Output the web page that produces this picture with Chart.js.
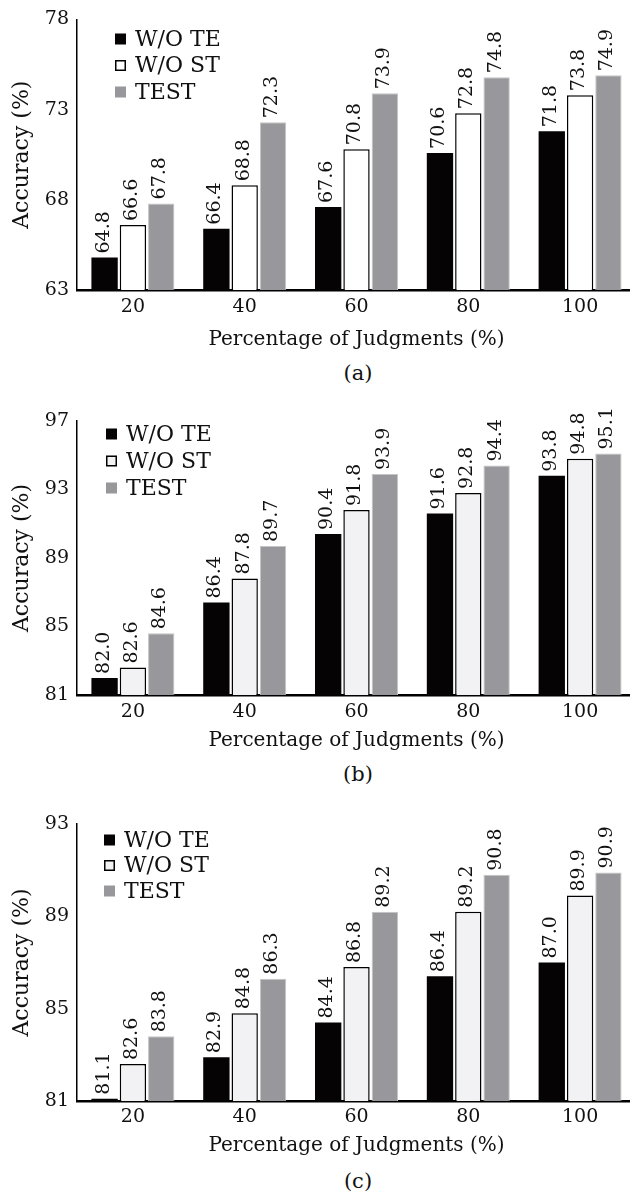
<!DOCTYPE html>
<html>
<head>
<meta charset="utf-8">
<script src="https://cdn.jsdelivr.net/npm/chart.js@4/dist/chart.umd.min.js"></script>
<style>
    html, body { margin: 0; padding: 0; background: #fff; width: 630px; height: 1196px; overflow: hidden; }
    canvas { position: absolute; left: 0; }
    .legenda-fig { position: absolute; left: 308px; width: 100px; text-align: center;
                   font: 21px "DejaVu Serif"; line-height: 24px; color: #111; }
</style>
</head>
<body>
<canvas id="graficoA" width="636" height="352" style="top:0px"></canvas>
<div class="legenda-fig" style="top:361px">(a)</div>
<canvas id="graficoB" width="636" height="353" style="top:400px"></canvas>
<div class="legenda-fig" style="top:762px">(b)</div>
<canvas id="graficoC" width="636" height="358" style="top:800px"></canvas>
<div class="legenda-fig" style="top:1169px">(c)</div>

<script>
// ---------------- DADOS ----------------
const categorias = ["20", "40", "60", "80", "100"];
const nomesSeries = ["W/O TE", "W/O ST", "TEST"];

// (a)
const semTE_a = [64.8, 66.4, 67.6, 70.6, 71.8];
const semST_a = [66.6, 68.8, 70.8, 72.8, 73.8];
const test_a  = [67.8, 72.3, 73.9, 74.8, 74.9];
const ticksY_a = [63, 68, 73, 78];

// (b)
const semTE_b = [82.0, 86.4, 90.4, 91.6, 93.8];
const semST_b = [82.6, 87.8, 91.8, 92.8, 94.8];
const test_b  = [84.6, 89.7, 93.9, 94.4, 95.1];
const ticksY_b = [81, 85, 89, 93, 97];

// (c)
const semTE_c = [81.1, 82.9, 84.4, 86.4, 87.0];
const semST_c = [82.6, 84.8, 86.8, 89.2, 89.9];
const test_c  = [83.8, 86.3, 89.2, 90.8, 90.9];
const ticksY_c = [81, 85, 89, 93];

Chart.defaults.font.family = "'DejaVu Serif'";
Chart.defaults.color = "#111";

/* -------------- ROTULOS DAS BARRAS -------------- */
const pluginRotulos = {
    id: "rotulos",
    afterDatasetsDraw(chart, args, opts) {
        const ctx = chart.ctx;
        ctx.save();
        ctx.font = opts.tamanho + "px 'DejaVu Serif'";
        ctx.fillStyle = "#111";
        ctx.textAlign = "left";
        ctx.textBaseline = "middle";
        chart.data.datasets.forEach((ds, i) => {
            chart.getDatasetMeta(i).data.forEach((barra, j) => {
                ctx.save();
                ctx.translate(barra.x - 1, barra.y - 4);
                ctx.rotate(-Math.PI / 2);
                ctx.fillText(ds.data[j].toFixed(1), 0, 0);
                ctx.restore();
            });
        });
        ctx.restore();
    }
};

/* -------------- LEGENDA DENTRO DO GRAFICO -------------- */
const pluginLegenda = {
    id: "legendaInterna",
    afterDraw(chart, args, opts) {
        const ctx = chart.ctx;
        ctx.save();
        ctx.font = opts.tamanho + "px 'DejaVu Serif'";
        ctx.textAlign = "left";
        ctx.textBaseline = "middle";
        chart.data.datasets.forEach((ds, i) => {
            const y = opts.y + i * opts.passo;
            ctx.fillStyle = ds.backgroundColor;
            ctx.fillRect(opts.x, y - opts.lado / 2, opts.lado, opts.lado);
            if (ds.borderColor === "#000") {
                ctx.lineWidth = 1.5;
                ctx.strokeStyle = "#000";
                ctx.strokeRect(opts.x + 0.75, y - opts.lado / 2 + 0.75, opts.lado - 1.5, opts.lado - 1.5);
            }
            ctx.fillStyle = "#111";
            ctx.fillText(ds.label, opts.x + opts.lado + 9, y + 1);
        });
        ctx.restore();
    }
};

// =============================
// Helper para montar cada grafico
// =============================
function criarGrafico(id, semTE, semST, test, ticksY, cfg) {
    new Chart(document.getElementById(id), {
        type: "bar",
        data: {
            labels: categorias,
            datasets: [
                { label: nomesSeries[0], data: semTE, backgroundColor: "#060304", borderWidth: 0 },
                { label: nomesSeries[1], data: semST, backgroundColor: cfg.corST, borderColor: "#000", borderWidth: 1.5 },
                { label: nomesSeries[2], data: test, backgroundColor: "#98989c", borderColor: "#c4c4c6", borderWidth: 1 }
            ]
        },
        options: {
            responsive: false,
            animation: false,
            layout: { padding: { top: cfg.topo, left: 0, right: 0, bottom: 0 } },
            datasets: { bar: { categoryPercentage: 0.76, barPercentage: 0.93 } },
            plugins: {
                legend: { display: false },
                tooltip: { enabled: false },
                rotulos: { tamanho: 19 },
                legendaInterna: cfg.legenda
            },
            scales: {
                x: {
                    grid: { display: false, drawTicks: false },
                    border: { color: "#000", width: 2.5 },
                    ticks: { font: { size: 19 }, padding: cfg.padTicks, color: "#111" },
                    title: { display: true, text: "Percentage of Judgments (%)", font: { size: 20 }, padding: 0, color: "#111" },
                    afterFit: s => { s.height = cfg.alturaX; }
                },
                y: {
                    min: ticksY[0],
                    max: ticksY[ticksY.length - 1],
                    grid: { display: false, drawTicks: false },
                    border: { color: "#000", width: 1.5 },
                    ticks: { font: { size: 19 }, padding: 8, color: "#111" },
                    afterBuildTicks: s => { s.ticks = ticksY.map(v => ({ value: v })); },
                    title: { display: true, text: "Accuracy (%)", font: { size: 22 }, padding: { top: 9, bottom: 0 }, color: "#111" },
                    afterFit: s => { s.width = 77; }
                }
            }
        },
        plugins: [pluginRotulos, pluginLegenda]
    });
}

criarGrafico("graficoA", semTE_a, semST_a, test_a, ticksY_a, {
    corST: "#ffffff", topo: 14, alturaX: 62, padTicks: 6,
    legenda: { x: 115, y: 39, passo: 26.5, lado: 11, tamanho: 22 }
});
criarGrafico("graficoB", semTE_b, semST_b, test_b, ticksY_b, {
    corST: "#f2f1f3", topo: 21, alturaX: 58, padTicks: 6,
    legenda: { x: 106, y: 34, passo: 27, lado: 11, tamanho: 22 }
});
criarGrafico("graficoC", semTE_c, semST_c, test_c, ticksY_c, {
    corST: "#f2f1f3", topo: 24, alturaX: 57, padTicks: 5,
    legenda: { x: 104, y: 40, passo: 25.5, lado: 11, tamanho: 22 }
});
</script>
</body>
</html>
